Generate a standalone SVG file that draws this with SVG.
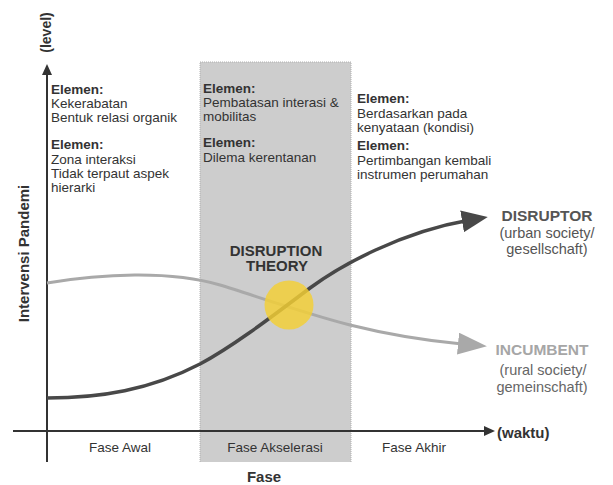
<svg xmlns="http://www.w3.org/2000/svg" width="613" height="485" viewBox="0 0 613 485">
<style>
text{font-family:"Liberation Sans",Arial,sans-serif;fill:#333}
.b{font-weight:bold}
.body{font-size:13.5px}
.el{font-size:13.5px;font-weight:bold}
.ax{font-size:13.5px}
.big{font-size:15px;font-weight:bold}
.side{font-size:14.5px}
</style>
<defs>
<marker id="arrDark" markerUnits="userSpaceOnUse" viewBox="0 0 26 22" markerWidth="26" markerHeight="22" refX="8" refY="11" orient="auto">
<path d="M0,0 L26,11 L0,22 Z" fill="#484848"/>
</marker>
<marker id="arrLight" markerUnits="userSpaceOnUse" viewBox="0 0 29 22" markerWidth="29" markerHeight="22" refX="4" refY="11" orient="auto">
<path d="M0,0 L29,11 L0,22 Z" fill="#a9a9a9"/>
</marker>
<marker id="arrAxis" markerUnits="userSpaceOnUse" viewBox="0 0 11 10" markerWidth="11" markerHeight="10" refX="1" refY="5" orient="auto">
<path d="M0,0 L11,5 L0,10 Z" fill="#333"/>
</marker>
</defs>

<g id="phase-band">
<rect x="200" y="62" width="151" height="400" fill="#cdcdcd"/>
<path d="M200,462 V62 H351 V462" fill="none" stroke="#b0b0b0" stroke-width="1" stroke-dasharray="1,1"/>
</g>

<g id="axes">
<line x1="47" y1="462" x2="47" y2="74" stroke="#333" stroke-width="2" marker-end="url(#arrAxis)"/>
<line x1="13" y1="431" x2="485" y2="431" stroke="#333" stroke-width="2" marker-end="url(#arrAxis)"/>
</g>

<g id="connectors">
<path id="incumbent-curve" d="M47,283 C100,274 170,270 220,285 C250,294 300,312 350,325 C390,335 430,341 462,344" fill="none" stroke="#a9a9a9" stroke-width="3" marker-end="url(#arrLight)"/>
<path id="disruptor-curve" d="M47,398 C100,398 150,390 200,364 C230,348 265,322 310,288 C340,266 400,232 470,220" fill="none" stroke="#484848" stroke-width="3.5" marker-end="url(#arrDark)"/>
</g>

<g id="disruption-point">
<circle cx="289" cy="305" r="24.5" fill="#f4cf33" fill-opacity="0.82"/>
</g>

<g id="disruption-theory">
<text class="big" x="276" y="255.5" text-anchor="middle">DISRUPTION</text>
<text class="big" x="277" y="271" text-anchor="middle">THEORY</text>
</g>

<g id="axis-labels">
<text class="b" transform="translate(51,32.5) rotate(-90)" text-anchor="middle" style="font-size:14px">(level)</text>
<text class="b" transform="translate(29,253.5) rotate(-90)" text-anchor="middle" style="font-size:15px">Intervensi Pandemi</text>
<text class="b" x="497" y="438" style="font-size:15px">(waktu)</text>
<text class="ax" x="120" y="452" text-anchor="middle">Fase Awal</text>
<text class="ax" x="275" y="452" text-anchor="middle">Fase Akselerasi</text>
<text class="ax" x="414" y="452" text-anchor="middle">Fase Akhir</text>
<text class="b" x="264" y="482" text-anchor="middle" style="font-size:15px">Fase</text>
</g>

<g id="phase-early-elements">
<text class="el" x="51" y="93.5">Elemen:</text>
<text class="body" x="51" y="107.5">Kekerabatan</text>
<text class="body" x="51" y="121.5">Bentuk relasi organik</text>
<text class="el" x="51" y="149">Elemen:</text>
<text class="body" x="51" y="164">Zona interaksi</text>
<text class="body" x="51" y="178">Tidak terpaut aspek</text>
<text class="body" x="51" y="192">hierarki</text>
</g>

<g id="phase-acceleration-elements">
<text class="el" x="203" y="92.5">Elemen:</text>
<text class="body" x="203" y="107">Pembatasan interasi &amp;</text>
<text class="body" x="203" y="121">mobilitas</text>
<text class="el" x="203" y="147">Elemen:</text>
<text class="body" x="203" y="161.5">Dilema kerentanan</text>
</g>

<g id="phase-late-elements">
<text class="el" x="357" y="103">Elemen:</text>
<text class="body" x="357" y="117.5">Berdasarkan pada</text>
<text class="body" x="357" y="131.5">kenyataan (kondisi)</text>
<text class="el" x="357" y="150">Elemen:</text>
<text class="body" x="357" y="164.5">Pertimbangan kembali</text>
<text class="body" x="357" y="178.5">instrumen perumahan</text>
</g>

<g id="disruptor-label">
<text class="b" x="547" y="221" text-anchor="middle" style="font-size:15.5px;fill:#555">DISRUPTOR</text>
<text class="side" x="547" y="237.5" text-anchor="middle" style="fill:#555">(urban society/</text>
<text class="side" x="547" y="254" text-anchor="middle" style="fill:#555">gesellschaft)</text>
</g>

<g id="incumbent-label">
<text class="b" x="542" y="355" text-anchor="middle" style="font-size:15.5px;fill:#a6a6a6">INCUMBENT</text>
<text class="side" x="543" y="375" text-anchor="middle" style="fill:#666">(rural society/</text>
<text class="side" x="542" y="391.5" text-anchor="middle" style="fill:#666">gemeinschaft)</text>
</g>
</svg>
